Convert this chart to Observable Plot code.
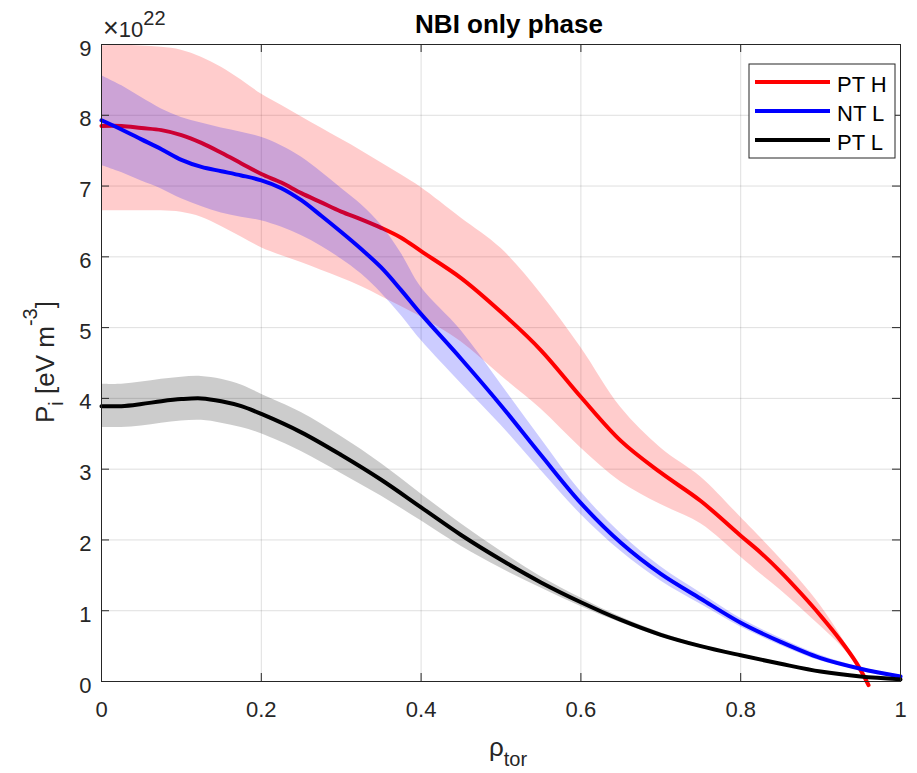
<!DOCTYPE html>
<html>
<head>
<meta charset="utf-8">
<script src="https://cdn.jsdelivr.net/npm/d3@7"></script>
<script src="https://cdn.jsdelivr.net/npm/@observablehq/plot@0.6"></script>
<style>
  html, body { margin: 0; padding: 0; background: #fff; }
  svg { display: block; }
</style>
</head>
<body>
<script>
// ---------- data (P_i in units of 1e22 eV m^-3) ----------
const seriesNames = ["PT H", "NT L", "PT L"];
const seriesColors = ["#ff0000", "#0000ff", "#000000"];

const rhoPTH = [0, 0.025, 0.05, 0.075, 0.1, 0.125, 0.15, 0.175, 0.2, 0.225, 0.25, 0.275, 0.3, 0.325, 0.35, 0.375, 0.4, 0.45, 0.5, 0.55, 0.6, 0.65, 0.7, 0.75, 0.8, 0.825, 0.85, 0.875, 0.9, 0.925, 0.945, 0.96];
const meanPTH = [7.85, 7.85, 7.82, 7.79, 7.72, 7.61, 7.47, 7.32, 7.17, 7.05, 6.90, 6.77, 6.64, 6.53, 6.41, 6.27, 6.08, 5.70, 5.22, 4.68, 4.02, 3.40, 2.95, 2.55, 2.06, 1.82, 1.55, 1.25, 0.93, 0.58, 0.26, -0.05];
const upperPTH = [8.98, 8.99, 8.98, 8.96, 8.92, 8.82, 8.68, 8.50, 8.30, 8.14, 7.98, 7.82, 7.66, 7.50, 7.33, 7.16, 6.98, 6.55, 6.12, 5.48, 4.72, 3.87, 3.30, 2.89, 2.32, 2.03, 1.73, 1.42, 1.07, 0.65, 0.28, -0.05];
const lowerPTH = [6.65, 6.65, 6.65, 6.65, 6.63, 6.56, 6.43, 6.28, 6.13, 6.02, 5.92, 5.81, 5.70, 5.58, 5.44, 5.30, 5.15, 4.80, 4.32, 3.85, 3.30, 2.82, 2.50, 2.23, 1.76, 1.52, 1.29, 1.04, 0.78, 0.51, 0.24, -0.05];

const rhoNTL = [0, 0.025, 0.05, 0.075, 0.1, 0.125, 0.15, 0.175, 0.2, 0.225, 0.25, 0.275, 0.3, 0.325, 0.35, 0.375, 0.4, 0.45, 0.5, 0.55, 0.6, 0.65, 0.7, 0.75, 0.8, 0.85, 0.9, 0.95, 1.0];
const meanNTL = [7.93, 7.80, 7.66, 7.52, 7.37, 7.27, 7.21, 7.15, 7.08, 6.97, 6.80, 6.58, 6.35, 6.11, 5.85, 5.53, 5.19, 4.56, 3.90, 3.20, 2.52, 1.96, 1.52, 1.17, 0.83, 0.56, 0.33, 0.18, 0.07];
const upperNTL = [8.56, 8.42, 8.25, 8.09, 7.97, 7.89, 7.82, 7.76, 7.69, 7.57, 7.41, 7.20, 6.97, 6.74, 6.45, 6.05, 5.57, 4.96, 4.20, 3.43, 2.68, 2.09, 1.62, 1.25, 0.89, 0.61, 0.37, 0.20, 0.08];
const lowerNTL = [7.29, 7.19, 7.07, 6.96, 6.82, 6.71, 6.62, 6.56, 6.51, 6.42, 6.30, 6.15, 5.97, 5.76, 5.49, 5.17, 4.82, 4.21, 3.62, 2.98, 2.36, 1.84, 1.42, 1.09, 0.77, 0.51, 0.29, 0.16, 0.06];

const rhoPTL = [0, 0.025, 0.05, 0.075, 0.1, 0.125, 0.15, 0.175, 0.2, 0.25, 0.3, 0.35, 0.4, 0.45, 0.5, 0.55, 0.6, 0.65, 0.7, 0.75, 0.8, 0.85, 0.9, 0.95, 1.0];
const meanPTL = [3.89, 3.89, 3.92, 3.96, 3.99, 4.00, 3.96, 3.89, 3.78, 3.52, 3.20, 2.85, 2.46, 2.07, 1.72, 1.40, 1.12, 0.87, 0.66, 0.50, 0.37, 0.25, 0.14, 0.07, 0.03];
const upperPTL = [4.20, 4.20, 4.23, 4.27, 4.30, 4.31, 4.27, 4.19, 4.06, 3.80, 3.46, 3.08, 2.65, 2.23, 1.84, 1.48, 1.18, 0.91, 0.69, 0.52, 0.38, 0.26, 0.15, 0.08, 0.03];
const lowerPTL = [3.59, 3.59, 3.61, 3.65, 3.68, 3.69, 3.65, 3.59, 3.50, 3.25, 2.94, 2.62, 2.27, 1.91, 1.60, 1.32, 1.06, 0.83, 0.63, 0.48, 0.36, 0.24, 0.13, 0.06, 0.02];

const xTicks = [0, 0.2, 0.4, 0.6, 0.8, 1];
const yTicks = [0, 1, 2, 3, 4, 5, 6, 7, 8, 9];
const xDomain = [0, 1];
const yDomain = [0, 9];

// ---------- tables ----------
function table(rho, mean, lo, hi) {
  return rho.map((r, i) => ({rho: r, mean: mean[i], lo: lo[i], hi: hi[i]}));
}
const series = [
  table(rhoPTH, meanPTH, lowerPTH, upperPTH),
  table(rhoNTL, meanNTL, lowerNTL, upperNTL),
  table(rhoPTL, meanPTL, lowerPTL, upperPTL)
];

const W = 917, H = 773;
const ML = 101, MR = 17, MT = 44, MB = 92;
const tickLen = 8;
const font = "'Liberation Sans', Arial, Helvetica, sans-serif";
const axisColor = "#262626";

const dataMarks = [];
series.forEach((s, k) => {
  dataMarks.push(Plot.areaY(s, {x: "rho", y1: "lo", y2: "hi", fill: seriesColors[k], fillOpacity: 0.2, curve: "catmull-rom"}));
  dataMarks.push(Plot.line(s, {x: "rho", y: "mean", stroke: seriesColors[k], strokeWidth: 4, curve: "catmull-rom"}));
});

const chart = Plot.plot({
  width: W,
  height: H,
  marginLeft: ML,
  marginRight: MR,
  marginTop: MT,
  marginBottom: MB,
  style: {fontFamily: font, color: axisColor, background: "#fff", overflow: "visible"},
  x: {domain: xDomain, label: null},
  y: {domain: yDomain, label: null},
  marks: [
    Plot.gridX(xTicks, {stroke: axisColor, strokeOpacity: 0.15, strokeWidth: 1}),
    Plot.gridY(yTicks, {stroke: axisColor, strokeOpacity: 0.15, strokeWidth: 1}),
    ...dataMarks,
    Plot.frame({stroke: axisColor, strokeWidth: 1}),
    Plot.ruleX(xTicks, {x: d => d, y1: yDomain[0], y2: yDomain[0], insetTop: -tickLen, stroke: axisColor}),
    Plot.ruleX(xTicks, {x: d => d, y1: yDomain[1], y2: yDomain[1], insetBottom: -tickLen, stroke: axisColor}),
    Plot.ruleY(yTicks, {y: d => d, x1: xDomain[0], x2: xDomain[0], insetRight: -tickLen, stroke: axisColor}),
    Plot.ruleY(yTicks, {y: d => d, x1: xDomain[1], x2: xDomain[1], insetLeft: -tickLen, stroke: axisColor}),
    Plot.axisX(xTicks, {tickSize: 0, tickPadding: 20, fontSize: 22, label: null, tickFormat: d => (d === 0 || d === 1) ? String(d) : d.toFixed(1)}),
    Plot.axisY(yTicks, {tickSize: 0, tickPadding: 10, fontSize: 22, dy: 4, label: null, tickFormat: d => String(d)})
  ]
});

document.body.appendChild(chart);

// ---------- annotations (title, labels, exponent, legend) ----------
const svg = d3.select(chart);
const g = svg.append("g").attr("font-family", font).attr("text-anchor", "start");

g.append("text")
  .attr("x", 509).attr("y", 33)
  .attr("text-anchor", "middle")
  .attr("font-size", 26).attr("font-weight", "bold").attr("fill", "#000")
  .text("NBI only phase");

const ex = g.append("text")
  .attr("x", 103).attr("y", 37)
  .attr("text-anchor", "start")
  .attr("font-size", 22).attr("fill", axisColor);
ex.append("tspan").attr("font-size", 27).text("\u00d7");
ex.append("tspan").text("10");
ex.append("tspan").attr("font-size", 20).attr("dy", -12).text("22");

const yl = g.append("text")
  .attr("transform", "translate(54,362) rotate(-90)")
  .attr("text-anchor", "middle")
  .attr("font-size", 26).attr("fill", axisColor);
yl.append("tspan").text("P");
yl.append("tspan").attr("font-size", 20).attr("dy", 9).text("i");
yl.append("tspan").attr("dy", -9).text(" [eV m");
yl.append("tspan").attr("font-size", 20).attr("dy", -17).text("-3");
yl.append("tspan").attr("dy", 17).text("]");

const xl = g.append("text")
  .attr("x", 508).attr("y", 756)
  .attr("text-anchor", "middle")
  .attr("font-size", 26).attr("fill", axisColor);
xl.append("tspan").text("\u03c1");
xl.append("tspan").attr("font-size", 20).attr("dy", 10).text("tor");

// legend
const lg = g.append("g");
lg.append("rect")
  .attr("x", 749).attr("y", 64).attr("width", 146).attr("height", 94)
  .attr("fill", "#fff").attr("stroke", axisColor).attr("stroke-width", 1);
seriesNames.forEach((name, i) => {
  const yy = 82 + i * 29;
  lg.append("line")
    .attr("x1", 755).attr("x2", 830).attr("y1", yy).attr("y2", yy)
    .attr("stroke", seriesColors[i]).attr("stroke-width", 4);
  lg.append("text")
    .attr("x", 837).attr("y", yy + 9.5)
    .attr("text-anchor", "start")
    .attr("font-size", 22).attr("fill", "#000")
    .text(name);
});
</script>
</body>
</html>
